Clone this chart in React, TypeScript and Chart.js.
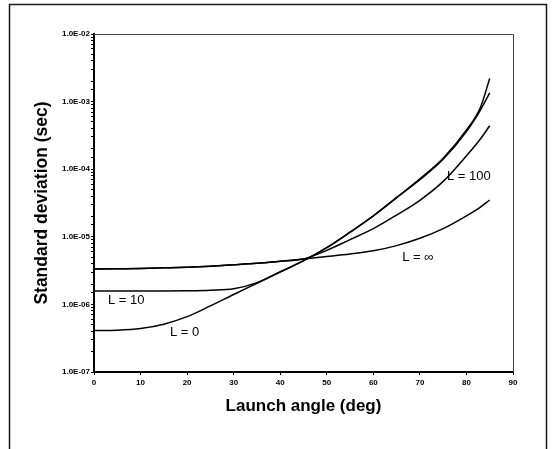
import React, { useEffect, useRef } from 'react';
import { Chart, registerables } from 'chart.js';

Chart.register(...registerables);

// Launch angle (deg)
const ANGLES = [0, 5, 10, 15, 20, 25, 30, 35, 40, 45, 50, 55, 60, 65, 70, 75, 80, 83, 85];

// Standard deviation (sec) for each L
const SD_L0 = [4.1e-7, 4.15e-7, 4.4e-7, 5.1e-7, 6.6e-7, 9.5e-7, 1.4e-6, 2.05e-6, 3.0e-6, 4.4e-6, 6.9e-6, 1.17e-5, 2.04e-5, 3.8e-5, 7.2e-5, 1.45e-4, 3.8e-4, 8.2e-4, 2.2e-3];
const SD_L10 = [1.58e-6, 1.58e-6, 1.58e-6, 1.58e-6, 1.59e-6, 1.62e-6, 1.7e-6, 2.1e-6, 3.05e-6, 4.45e-6, 6.9e-6, 1.17e-5, 2.04e-5, 3.8e-5, 7.0e-5, 1.4e-4, 3.6e-4, 7.5e-4, 1.35e-3];
const SD_L100 = [3.34e-6, 3.37e-6, 3.4e-6, 3.47e-6, 3.55e-6, 3.68e-6, 3.85e-6, 4.05e-6, 4.35e-6, 4.7e-6, 6.3e-6, 9.1e-6, 1.32e-5, 2.1e-5, 3.47e-5, 6.6e-5, 1.58e-4, 2.8e-4, 4.4e-4];
const SD_LINF = [3.34e-6, 3.37e-6, 3.4e-6, 3.47e-6, 3.55e-6, 3.68e-6, 3.85e-6, 4.05e-6, 4.35e-6, 4.7e-6, 5.1e-6, 5.56e-6, 6.2e-6, 7.4e-6, 9.5e-6, 1.32e-5, 2.04e-5, 2.75e-5, 3.5e-5];

const SERIES_NAMES = ['L = 0', 'L = 10', 'L = 100', 'L = ∞'];
const SERIES_VALUES = [SD_L0, SD_L10, SD_L100, SD_LINF];

// Y tick labels for powers of ten 1e-7 .. 1e-2
const Y_TICK_LABELS = ['1.0E-07', '1.0E-06', '1.0E-05', '1.0E-04', '1.0E-03', '1.0E-02'];
const Y_MIN_EXP = -7;
const X_TICK_LABELS = ['0', '10', '20', '30', '40', '50', '60', '70', '80', '90'];

// Curve labels anchored in data units (angle, sd)
const LABEL_TEXTS = ['L = 10', 'L = 0', 'L = 100', 'L = ∞'];
const LABEL_ANGLES = [3, 16.3, 75.8, 66.2];
const LABEL_SDS = [1.16e-6, 3.9e-7, 7.7e-5, 5.0e-6];

const FONT = '"Liberation Sans", Arial, sans-serif';

const decorPlugin = {
  id: 'decor',
  beforeDraw(chart: any) {
    const { ctx, width, height } = chart;
    ctx.save();
    ctx.fillStyle = '#ffffff';
    ctx.fillRect(0, 0, width, height);
    ctx.restore();
  },
  afterDraw(chart: any) {
    const { ctx, chartArea, scales } = chart;
    const { left, top, right, bottom } = chartArea;
    ctx.save();
    // outer frame
    ctx.strokeStyle = '#1a1a1a';
    ctx.lineWidth = 1.5;
    ctx.beginPath();
    ctx.moveTo(9.5, 460);
    ctx.lineTo(9.5, 4.5);
    ctx.lineTo(546.5, 4.5);
    ctx.lineTo(546.5, 460);
    ctx.stroke();
    // thin top & right plot borders
    ctx.strokeStyle = '#444';
    ctx.lineWidth = 1;
    ctx.beginPath();
    ctx.moveTo(left, top + 0.5);
    ctx.lineTo(right + 0.5, top + 0.5);
    ctx.lineTo(right + 0.5, bottom);
    ctx.stroke();
    // curve labels
    ctx.fillStyle = '#000';
    ctx.font = `13px ${FONT}`;
    ctx.textAlign = 'left';
    ctx.textBaseline = 'middle';
    LABEL_TEXTS.forEach((t, i) => {
      ctx.fillText(t, scales.x.getPixelForValue(LABEL_ANGLES[i]), scales.y.getPixelForValue(LABEL_SDS[i]));
    });
    ctx.restore();
  },
};

export default function App() {
  const canvasRef = useRef<HTMLCanvasElement | null>(null);

  useEffect(() => {
    const canvas = canvasRef.current;
    if (!canvas) return;
    const chart = new Chart(canvas, {
      type: 'line',
      data: {
        datasets: SERIES_VALUES.map((vals, i) => ({
          label: SERIES_NAMES[i],
          data: ANGLES.map((a, j) => ({ x: a, y: vals[j] })),
          borderColor: '#000',
          borderWidth: 1.5,
          pointRadius: 0,
          fill: false,
          cubicInterpolationMode: 'monotone' as const,
        })),
      },
      options: {
        animation: false,
        responsive: false,
        devicePixelRatio: 1,
        layout: { padding: { top: 34, right: 41, bottom: 0, left: 0 } },
        plugins: {
          legend: { display: false },
          tooltip: { enabled: false },
        },
        scales: {
          x: {
            type: 'linear',
            min: 0,
            max: 90,
            afterFit: (s: any) => { s.height = 77; },
            afterBuildTicks: (s: any) => {
              s.ticks = X_TICK_LABELS.map((l) => ({ value: Number(l) }));
            },
            border: { color: '#000', width: 2 },
            grid: { display: true, drawOnChartArea: false, drawTicks: true, tickLength: 3, color: '#000', lineWidth: 1 },
            ticks: {
              color: '#000',
              padding: 3,
              maxRotation: 0,
              autoSkip: false,
              font: { family: FONT, size: 8, weight: 'bold' },
              callback: (v: any) => {
                const idx = X_TICK_LABELS.indexOf(String(v));
                return idx >= 0 ? X_TICK_LABELS[idx] : '';
              },
            },
            title: {
              display: true,
              text: 'Launch angle (deg)',
              color: '#000',
              font: { family: FONT, size: 17, weight: 'bold' },
              padding: { top: 0, bottom: 32 },
            },
          },
          y: {
            type: 'logarithmic',
            min: 1e-7,
            max: 1e-2,
            afterFit: (s: any) => { s.width = 94; },
            border: { color: '#000', width: 2 },
            grid: { display: true, drawOnChartArea: false, drawTicks: true, tickLength: 3, color: '#000', lineWidth: 1 },
            ticks: {
              color: '#000',
              padding: 1,
              autoSkip: false,
              font: { family: FONT, size: 8, weight: 'bold' },
              callback: (v: any) => {
                const val = Number(v);
                const e = Math.round(Math.log10(val));
                if (Math.abs(val / Math.pow(10, e) - 1) < 1e-6) {
                  return Y_TICK_LABELS[e - Y_MIN_EXP] ?? '';
                }
                return '';
              },
            },
            title: {
              display: true,
              text: 'Standard deviation (sec)',
              color: '#000',
              font: { family: FONT, size: 17.5, weight: 'bold' },
              padding: { top: 31.5, bottom: 0 },
            },
          },
        },
      },
      plugins: [decorPlugin],
    } as any);
    return () => chart.destroy();
  }, []);

  return (
    <div style={{ position: 'fixed', left: 0, top: 0, width: 554, height: 449, background: '#fff' }}>
      <canvas ref={canvasRef} width={554} height={449} style={{ display: 'block', width: 554, height: 449 }} />
    </div>
  );
}
